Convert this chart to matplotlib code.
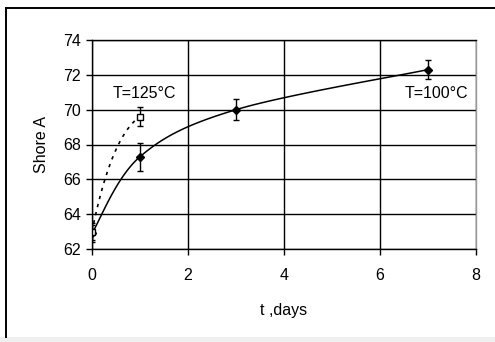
import numpy as np
import matplotlib
matplotlib.use("Agg")
import matplotlib.pyplot as plt
from matplotlib.lines import Line2D

plt.rcParams['font.family'] = ['Liberation Sans', 'DejaVu Sans']

# hardness vs. ageing time
t_100 = [0, 1, 3, 7]
shore_100 = [62.9, 67.3, 70.0, 72.3]
err_100 = [0.5, 0.8, 0.6, 0.55]

t_125 = [0, 1]
shore_125 = [63.0, 69.6]
err_125 = [0.5, 0.55]

x_ticks = [0, 2, 4, 6, 8]
y_ticks = [62, 64, 66, 68, 70, 72, 74]


def smooth_curve(ax, xs, ys, n=40):
    # spreadsheet-style smoothed line: cubic bezier segments built in pixel space
    pts = ax.transData.transform(np.column_stack([xs, ys]))
    ext = np.vstack([pts[0], pts, pts[-1]])
    out = []
    for i in range(len(pts) - 1):
        p0, p1 = pts[i], pts[i + 1]
        c1 = p0 + (ext[i + 2] - ext[i]) / 6.0
        c2 = p1 - (ext[i + 3] - ext[i + 1]) / 6.0
        s = np.linspace(0, 1, n)[:, None]
        seg = (1 - s) ** 3 * p0 + 3 * s * (1 - s) ** 2 * c1 + 3 * s ** 2 * (1 - s) * c2 + s ** 3 * p1
        out.append(seg)
    out = ax.transData.inverted().transform(np.vstack(out))
    return out[:, 0], out[:, 1]


def bowed_curve(xs, ys, n=60):
    # quadratic curve rising fast first, then levelling off
    p0 = np.array([xs[0], ys[0]])
    p1 = np.array([xs[-1], ys[-1]])
    c = p0 + np.array([0.4, 0.83]) * (p1 - p0)
    s = np.linspace(0, 1, n)[:, None]
    b = (1 - s) ** 2 * p0 + 2 * s * (1 - s) * c + s ** 2 * p1
    return b[:, 0], b[:, 1]


fig = plt.figure(figsize=(4.95, 3.42), dpi=100)
fig.patch.set_facecolor('white')

# outer frame of the chart area
fig.add_artist(Line2D([6 / 495, 1.0], [1 - 8 / 342, 1 - 8 / 342], color='black', lw=1.4))
fig.add_artist(Line2D([6 / 495, 6 / 495], [1 - 8 / 342, 1 - 337 / 342], color='black', lw=1.4))
fig.add_artist(plt.Rectangle((0, 0), 1, 5 / 342, color='#efefef', lw=0))

ax = fig.add_axes([92 / 495, 1 - 249 / 342, 384 / 495, 209 / 342])
ax.set_xlim(0, 8)
ax.set_ylim(62, 74)
ax.set_xticks(x_ticks)
ax.set_yticks(y_ticks)
ax.grid(True, color='black', lw=1.0)
ax.set_axisbelow(True)

for side in ['left', 'bottom', 'top']:
    ax.spines[side].set_color('black')
    ax.spines[side].set_linewidth(1.0)
ax.spines['right'].set_color('#999999')
ax.spines['right'].set_linewidth(1.0)

ax.tick_params(axis='both', direction='out', length=4, width=1.0, color='black', labelsize=11.5)
ax.tick_params(axis='x', pad=10)
ax.tick_params(axis='y', pad=4)

# 100 C series: smoothed solid line, filled markers
xc, yc = smooth_curve(ax, t_100, shore_100)
ax.plot(xc, yc, color='black', lw=1.1)
ax.errorbar(t_100, shore_100, yerr=err_100, fmt='D', color='black', ms=4.5,
            elinewidth=1.0, capsize=2.5, capthick=1.0)

# 125 C series: dotted line, hollow squares
xb, yb = bowed_curve(t_125, shore_125)
ax.plot(xb, yb, color='black', lw=1.2, linestyle=(0, (2, 3)))
ax.errorbar(t_125, shore_125, yerr=err_125, fmt='s', color='black', mfc='white', ms=4,
            mew=1.0, elinewidth=1.0, capsize=2.5, capthick=1.0)

ax.text(1.1, 70.9, 'T=125\u00b0C', ha='center', va='center', fontsize=11.5)
ax.text(7.17, 70.9, 'T=100\u00b0C', ha='center', va='center', fontsize=11.5)

ax.set_xlabel('t ,days', fontsize=11.5, labelpad=14)
ax.set_ylabel('Shore A', fontsize=11.5, labelpad=10)

fig.savefig('out.png', dpi=100)
